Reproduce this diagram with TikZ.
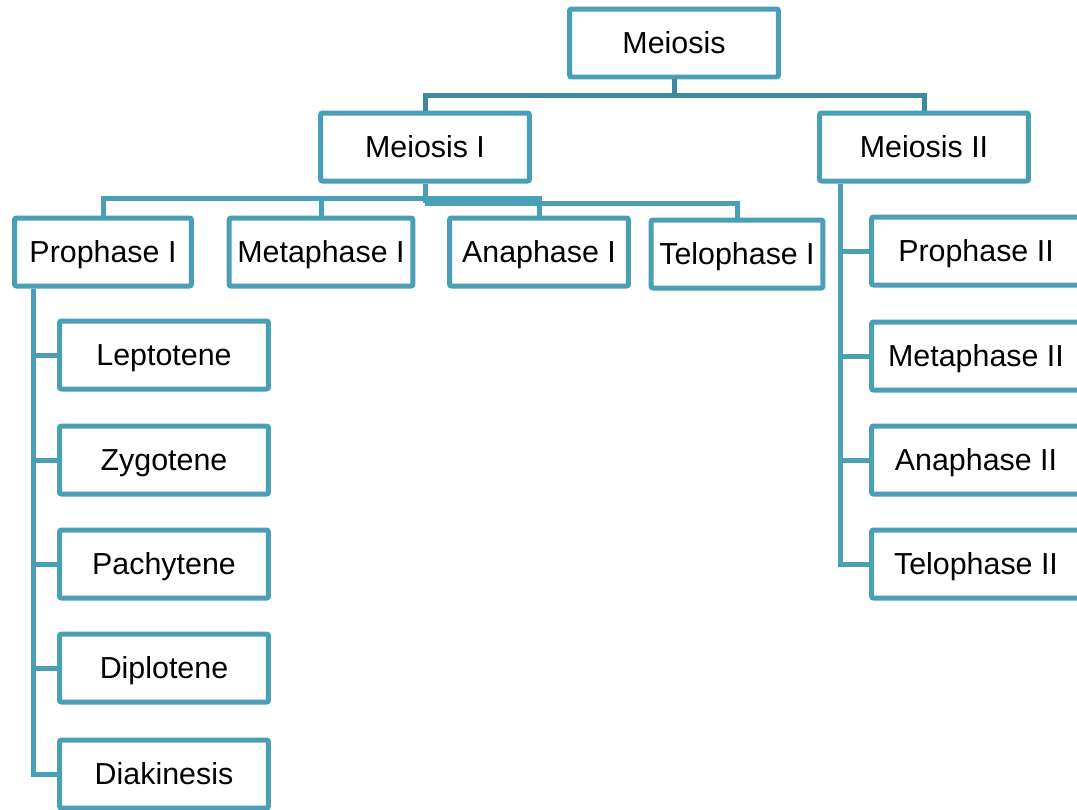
\documentclass[tikz,border=0pt]{standalone}
\usepackage{fontspec}
\setmainfont{Liberation Sans}
\definecolor{teal1}{RGB}{74,158,182}
\definecolor{teal2}{RGB}{62,138,156}

\begin{document}
\begin{tikzpicture}[x=0.02cm,y=-0.02cm,
   box/.style={draw=teal1,line width=0.1cm,rounded corners=0.04cm,fill=white,
     minimum width=4.18cm,minimum height=1.36cm,inner sep=0pt,
     text height=12.4pt,text depth=0pt,
     font=\fontsize{17.3}{20}\selectfont},
   link/.style={draw=teal1,line width=0.1cm},
   toplink/.style={draw=teal2,line width=0.1cm}]
\useasboundingbox (0,0) rectangle (1077,809);
\clip (0,0) rectangle (1077,809);

% upper levels
\node[box] (meiosis) at (674,43) {Meiosis};
\node[box] (m1) at (425,147) {Meiosis I};
\node[box] (m2) at (924,147) {Meiosis II};

\node[box,minimum width=3.54cm] (pro1) at (103,252) {Prophase I};
\node[box,minimum width=3.68cm] (meta1) at (321,252) {Metaphase I};
\node[box,minimum width=3.58cm] (ana1) at (539,252) {Anaphase I};
\node[box,minimum width=3.44cm] (telo1) at (737,254) {Telophase I};

% stages of prophase I
\node[box] (lept) at (164,355) {Leptotene};
\node[box] (zygo) at (164,460) {Zygotene};
\node[box] (pach) at (164,564) {Pachytene};
\node[box] (dipl) at (164,668) {Diplotene};
\node[box] (diak) at (164,774) {Diakinesis};

% meiosis II
\node[box] (pro2) at (976,251) {Prophase II};
\node[box] (meta2) at (976,356) {Metaphase II};
\node[box] (ana2) at (976,460) {Anaphase II};
\node[box] (telo2) at (976,564) {Telophase II};

\coordinate (bar1) at (674,95);
\coordinate (bar2) at (425,198);
\coordinate (bar3) at (425,203);
\coordinate (spine1) at (33,0);
\coordinate (spine2) at (840,0);

\draw[toplink] (meiosis) -- (bar1);
\draw[toplink] (m1.north) |- (bar1) -| (m2.north);

\draw[link] (m1.south) -- (bar3);
\draw[link] (pro1.north) |- (bar2) -| (ana1.north);
\draw[link] (meta1.north) -- (meta1.north |- bar2);
\draw[link] (bar3) -| (telo1.north);

\draw[link] (pro1.south -| spine1) |- (diak.west);
\foreach \n in {lept,zygo,pach,dipl}
  \draw[link] (\n.west) -- (\n.west -| spine1);

\draw[link] (m2.south -| spine2) |- (telo2.west);
\foreach \n in {pro2,meta2,ana2}
  \draw[link] (\n.west) -- (\n.west -| spine2);
\end{tikzpicture}
\end{document}
